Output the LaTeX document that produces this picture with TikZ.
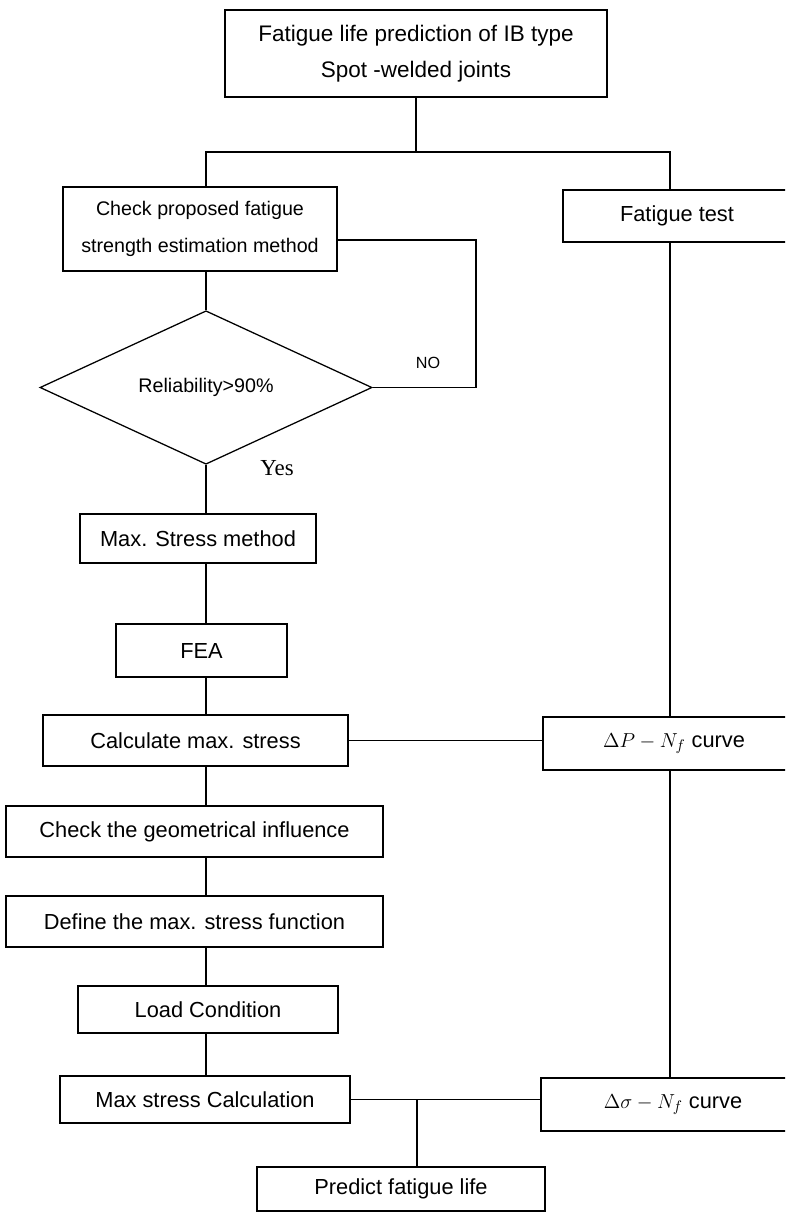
\documentclass[tikz,border=0pt]{standalone}
\usepackage{fontspec}
\setmainfont{Liberation Sans}
\newfontfamily\yesfont{Liberation Serif}
\usetikzlibrary{shapes.geometric}
\tikzset{
	box/.style = {draw, line width = 0.9pt, inner sep = 0pt, align = center, font = \fontsize{15.5}{26}\selectfont},
	link/.style = {line width = 0.9pt},
}

\begin{document}
\begin{tikzpicture}[x = 0.025cm, y = -0.025cm]
		\clip (0, 0) rectangle (785, 1213);
		%%%%%%%%%%%%%
		\node [box, minimum width = 9.55cm, minimum height = 2.175cm, font = \fontsize{16}{25.5}\selectfont] (title) at (416, 53.5) {Fatigue life prediction of IB type\\Spot -welded joints};
		\node [box, minimum width = 6.85cm, minimum height = 2.1cm, font = \fontsize{14}{26}\selectfont] (check) at (200, 229) {Check proposed fatigue\\strength estimation method};
		\node [box, minimum width = 5.7cm, minimum height = 1.3cm] (ftest) at (677, 216) {Fatigue test};
		\node [box, diamond, minimum width = 8.3cm, minimum height = 2.725cm, font = \fontsize{14}{16}\selectfont] (rel) at (206, 387.5) {Reliability>90\%};
		\node [font = \fontsize{11.5}{13}\selectfont] (no) at (428, 363) {NO};
		\node [font = \yesfont\fontsize{16.3}{18}\selectfont] (yes) at (277, 468) {Yes};
		\node [box, minimum width = 5.9cm, minimum height = 1.225cm] (maxm) at (198, 538.5) {Max. Stress method};
		\node [box, minimum width = 4.275cm, minimum height = 1.325cm] (fea) at (201.5, 650.5) {FEA};
		\node [box, minimum width = 7.625cm, minimum height = 1.275cm] (calc) at (195.5, 740.5) {Calculate max. stress};
		\node [box, minimum width = 6.55cm, minimum height = 1.325cm] (dp) at (674, 743.5) {$\Delta P - N_f$ curve};
		\node [box, minimum width = 9.425cm, minimum height = 1.275cm] (geom) at (194.5, 831.5) {Check the geometrical influence};
		\node [box, minimum width = 9.425cm, minimum height = 1.275cm] (define) at (194.5, 921.5) {Define the max. stress function};
		\node [box, minimum width = 6.5cm, minimum height = 1.175cm] (load) at (208, 1009.5) {Load Condition};
		\node [box, minimum width = 7.25cm, minimum height = 1.175cm] (maxc) at (205, 1099.5) {Max stress Calculation};
		\node [box, minimum width = 6.6cm, minimum height = 1.325cm] (ds) at (673, 1104.5) {$\Delta\sigma - N_f$ curve};
		\node [box, minimum width = 7.2cm, minimum height = 1.1cm] (pred) at (401, 1189) {Predict fatigue life};
		%%%%%%%%%%%%%
		\coordinate (spine) at (206, 0);
		\coordinate (rcol) at (670, 0);
		\coordinate (split) at (416, 152);
		\coordinate (nobend) at (476, 240);
		\coordinate (drop) at (417, 0);
		%%%%%%%%%%%%%
		\draw [link] (title) to (split);
		\draw [link] (check.north -| spine) to (spine |- split) to (rcol |- split) to (ftest.north -| rcol);
		\draw [link] (check.south -| spine) to (rel.north);
		\draw [link] (rel.east) -| (nobend) to (check.east |- nobend);
		\draw [link] (rel.south) to (maxm.north -| spine);
		\draw [link] (maxm.south -| spine) to (fea.north -| spine);
		\draw [link] (fea.south -| spine) to (calc.north -| spine);
		\draw [link] (calc.south -| spine) to (geom.north -| spine);
		\draw [link] (geom.south -| spine) to (define.north -| spine);
		\draw [link] (define.south -| spine) to (load.north -| spine);
		\draw [link] (load.south -| spine) to (maxc.north -| spine);
		\draw [link] (ftest.south -| rcol) to (dp.north -| rcol);
		\draw [link] (dp.south -| rcol) to (ds.north -| rcol);
		\draw [link] (calc.east) to (calc.east -| dp.west);
		\draw [link] (maxc.east) to (maxc.east -| ds.west);
		\draw [link] (maxc.east -| drop) to (pred.north -| drop);
\end{tikzpicture}
\end{document}
